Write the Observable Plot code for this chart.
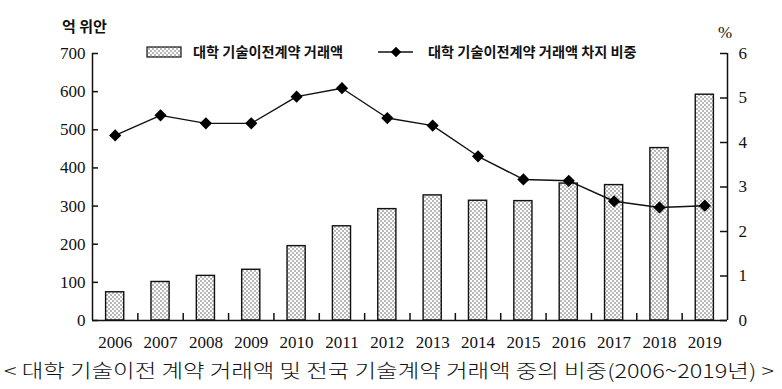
<!DOCTYPE html>
<html>
<head>
<meta charset="utf-8">
<script src="https://cdn.jsdelivr.net/npm/d3@7"></script>
<script src="https://cdn.jsdelivr.net/npm/@observablehq/plot@0.6"></script>
<style>
  html, body { margin: 0; padding: 0; background: #fff; }
  #chart { width: 782px; height: 389px; }
</style>
</head>
<body>
<div id="chart"></div>
<script>
const years = [2006, 2007, 2008, 2009, 2010, 2011, 2012, 2013, 2014, 2015, 2016, 2017, 2018, 2019];
const amount = [74, 101, 117, 133, 195, 247, 292, 328, 314, 313, 359, 355, 452, 592]; // 억 위안
const share = [4.16, 4.61, 4.43, 4.43, 5.03, 5.22, 4.55, 4.38, 3.69, 3.17, 3.14, 2.68, 2.54, 2.58]; // %
const leftTicks = [0, 100, 200, 300, 400, 500, 600, 700];
const rightTicks = [0, 1, 2, 3, 4, 5, 6];
const leftUnit = "억 위안";
const rightUnit = "%";
const barLabel = "대학 기술이전계약 거래액";
const lineLabel = "대학 기술이전계약 거래액 차지 비중";
const caption = "< 대학 기술이전 계약 거래액 및 전국 기술계약 거래액 중의 비중(2006~2019년) >";

const leftMax = leftTicks[leftTicks.length - 1];
const rightMax = rightTicks[rightTicks.length - 1];
const k = leftMax / rightMax;

const data = years.map((y, i) => ({year: y, amount: amount[i], share: share[i]}));
const x0 = years[0] - 0.5, x1 = years[years.length - 1] + 0.5;
const halfBar = 0.2;
const boundaries = years.slice(0, -1).map(y => y + 0.5);

const W = 782, H = 389, mL = 92, mR = 55, mT = 53, mB = 69;
const plotW = W - mL - mR, plotH = H - mT - mB;
const ink = "#111";

const plot = Plot.plot({
  width: W,
  height: H,
  marginLeft: mL,
  marginRight: mR,
  marginTop: mT,
  marginBottom: mB,
  style: {fontFamily: "'Liberation Serif', 'Times New Roman', serif", fontSize: "17px", color: ink, background: "#fff"},
  x: {domain: [x0, x1], axis: null},
  y: {domain: [0, leftMax], axis: null},
  marks: [
    Plot.rectY(data, {x1: d => d.year - halfBar, x2: d => d.year + halfBar, y: "amount", fill: "url(#dots)", stroke: ink, strokeWidth: 1.4}),
    Plot.line(data, {x: "year", y: d => d.share * k, stroke: ink, strokeWidth: 1.4}),
    Plot.dot(data, {x: "year", y: d => d.share * k, symbol: "diamond2", r: 5.5, fill: "#000", stroke: "none"}),
    Plot.ruleX([x0, x1], {y1: 0, y2: leftMax, stroke: ink, strokeWidth: 1.5}),
    Plot.ruleY([0], {stroke: ink, strokeWidth: 1.5}),
    // inward ticks
    Plot.tickY(leftTicks, {y: d => d, insetRight: plotW - 6, stroke: ink, strokeWidth: 1.5}),
    Plot.tickY(rightTicks, {y: d => d * k, insetLeft: plotW - 7, stroke: ink, strokeWidth: 1.5}),
    Plot.tickX(boundaries, {x: d => d, insetTop: plotH - 7, stroke: ink, strokeWidth: 1.5}),
    // tick labels
    Plot.axisY({anchor: "left", ticks: leftTicks, tickSize: 0, tickPadding: 7, tickFormat: d => d, label: null}),
    Plot.axisY({anchor: "right", ticks: rightTicks.map(v => v * k), tickSize: 0, tickPadding: 11, tickFormat: d => Math.round(d / k), label: null}),
    Plot.axisX({anchor: "bottom", ticks: years, tickSize: 0, tickPadding: 15, tickFormat: d => String(d), label: null})
  ]
});

const svg = d3.select(plot);
const defs = svg.insert("defs", ":first-child");
const pat = defs.append("pattern").attr("id", "dots").attr("patternUnits", "userSpaceOnUse")
  .attr("width", 4).attr("height", 4);
pat.append("rect").attr("width", 4).attr("height", 4).attr("fill", "#fff");
pat.append("circle").attr("cx", 1).attr("cy", 1).attr("r", 0.65).attr("fill", "#333");
pat.append("circle").attr("cx", 3).attr("cy", 3).attr("r", 0.65).attr("fill", "#333");

const kfont = "'Noto Sans CJK KR', 'Noto Sans', sans-serif";
const g = svg.append("g").attr("text-anchor", "start");
g.append("text").attr("x", 62).attr("y", 32).attr("font-family", kfont).attr("font-size", 15)
  .attr("font-weight", "bold").attr("fill", ink).text(leftUnit);
g.append("text").attr("x", 718).attr("y", 38).attr("font-size", 17).attr("fill", ink).text(rightUnit);

// legend
g.append("rect").attr("x", 147).attr("y", 47).attr("width", 34).attr("height", 10)
  .attr("fill", "url(#dots)").attr("stroke", ink).attr("stroke-width", 1.2);
g.append("text").attr("x", 193).attr("y", 57).attr("font-family", kfont).attr("font-size", 14.2)
  .attr("font-weight", "bold").attr("fill", ink).text(barLabel);
g.append("line").attr("x1", 378).attr("x2", 413).attr("y1", 52).attr("y2", 52)
  .attr("stroke", ink).attr("stroke-width", 1.4);
g.append("path").attr("d", d3.symbol(d3.symbolDiamond2, 70)()).attr("transform", "translate(396,52)").attr("fill", "#000");
g.append("text").attr("x", 428).attr("y", 57).attr("font-family", kfont).attr("font-size", 14.2)
  .attr("font-weight", "bold").attr("fill", ink).text(lineLabel);

// caption
g.append("text").attr("x", 4).attr("y", 378).attr("font-family", kfont).attr("font-size", 19)
  .attr("font-weight", 300).attr("fill", ink)
  .attr("textLength", 770).attr("lengthAdjust", "spacingAndGlyphs").text(caption);

document.getElementById("chart").appendChild(plot);
</script>
</body>
</html>
